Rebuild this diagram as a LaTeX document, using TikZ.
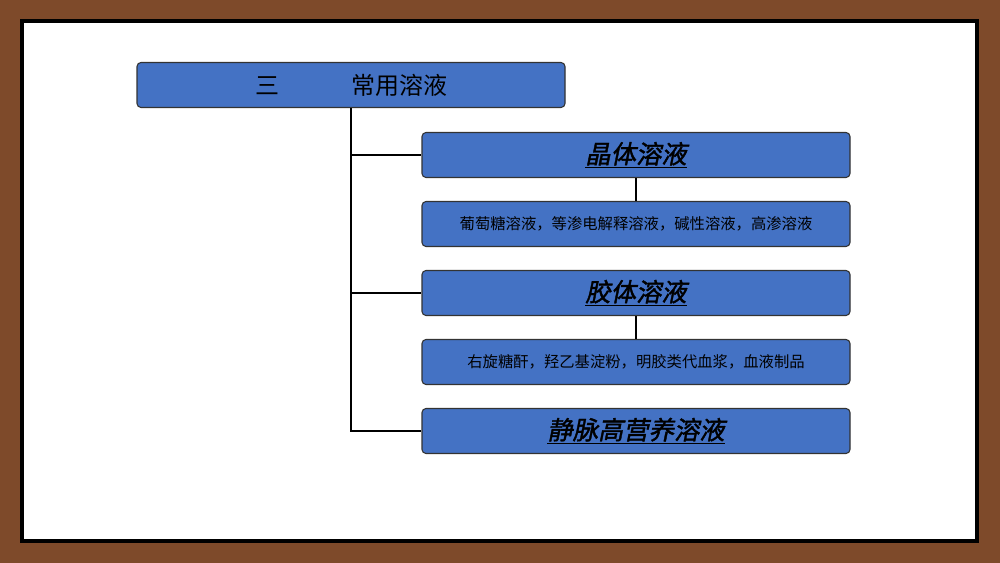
\documentclass[tikz,border=0pt]{standalone}
\usepackage{fontspec}
\setmainfont{Noto Sans CJK SC}
\newfontfamily\cjkslant[FakeSlant=0.2,FakeBold=1.5]{Noto Sans CJK SC}
\usetikzlibrary{positioning}
\definecolor{frame}{HTML}{7E4A2A}
\definecolor{boxblue}{HTML}{4472C4}
\begin{document}
\begin{tikzpicture}[x=0.75pt,y=-0.75pt]
    \tikzstyle{block} = [draw=black!80, fill=boxblue, rounded corners=3pt, line width=0.8pt, minimum height=45*0.75pt, minimum width=428*0.75pt, inner sep=0pt]
    \tikzstyle{head} = [block, font=\fontsize{19}{22}\cjkslant]
    \tikzstyle{item} = [block, font=\fontsize{11.5}{14}\selectfont]
    \tikzstyle{link} = [line width=1.5pt]

    \fill [frame] (0,0) rectangle (1000,563);
    \draw [fill=white, line width=3pt] (22,21) rectangle (977,541);

    \node [block, font=\fontsize{18}{22}\selectfont] at (351,85) (title) {三\hspace{3em}常用溶液};
    \node [head] at (636,155) (h1) {\underline{晶体溶液}};
    \node [item] at (636,224) (s1) {葡萄糖溶液，等渗电解释溶液，碱性溶液，高渗溶液};
    \node [head] at (636,293) (h2) {\underline{胶体溶液}};
    \node [item] at (636,362) (s2) {右旋糖酐，羟乙基淀粉，明胶类代血浆，血液制品};
    \node [head] at (636,431) (h3) {\underline{静脉高营养溶液}};

    \begin{scope}[link]
    \draw (title.south) -- (title.south |- h3.west) -- (h3.west);
    \draw (title.south |- h1.west) -- (h1.west);
    \draw (title.south |- h2.west) -- (h2.west);
    \draw (h1) -- (s1);
    \draw (h2) -- (s2);
    \end{scope}
\end{tikzpicture}
\end{document}
